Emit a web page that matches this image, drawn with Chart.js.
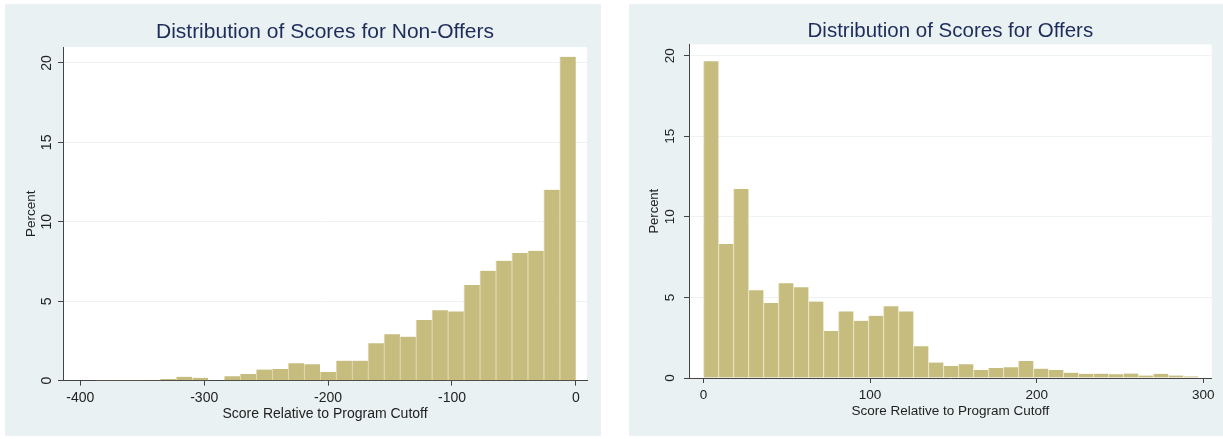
<!DOCTYPE html>
<html>
<head>
<meta charset="utf-8">
<script src="https://cdn.jsdelivr.net/npm/chart.js@4.4.1/dist/chart.umd.min.js"></script>
<style>
  body { margin: 0; background: #fff; width: 1223px; height: 439px; position: relative; overflow: hidden; }
  .panel { position: absolute; top: 4px; height: 432px; background: #e9f1f3; }
  #leftPanel { left: 5px; width: 596px; }
  #rightPanel { left: 629px; width: 594px; }
</style>
</head>
<body>
<div class="panel" id="leftPanel"><canvas id="nonOffers" width="596" height="432"></canvas></div>
<div class="panel" id="rightPanel"><canvas id="offers" width="594" height="432"></canvas></div>
<script>
// histogram bins (percent of applicants)
const nonOfferBinStart = -400;
const nonOfferBinWidth = 12.9;
const nonOfferPercent = [0.03, 0.02, 0.02, 0.02, 0.05, 0.1, 0.25, 0.18, 0, 0.28, 0.42, 0.7, 0.74,
  1.1, 1.04, 0.54, 1.26, 1.26, 2.35, 2.93, 2.77, 3.82, 4.44, 4.36, 6.02, 6.92, 7.55, 8.03, 8.18,
  12.01, 20.38];

const offerBinStart = 0;
const offerBinWidth = 9;
const offerPercent = [19.65, 8.31, 11.72, 5.45, 4.66, 5.88, 5.63, 4.74, 2.92, 4.13, 3.55, 3.86,
  4.45, 4.13, 1.97, 0.96, 0.74, 0.86, 0.5, 0.62, 0.66, 1.05, 0.58, 0.49, 0.33, 0.26, 0.27, 0.24,
  0.28, 0.15, 0.26, 0.15, 0.1];

const nonOfferXTicks = [-400, -300, -200, -100, 0];
const offerXTicks = [0, 100, 200, 300];
const percentTicks = [0, 5, 10, 15, 20];

const FONT = '"Liberation Sans", Arial, sans-serif';
Chart.defaults.font.family = FONT;

const plotBackground = {
  id: "plotBackground",
  beforeDraw(chart) {
    const { ctx, chartArea: a } = chart;
    ctx.save();
    ctx.fillStyle = "#ffffff";
    ctx.fillRect(a.left, a.top, a.right - a.left, a.bottom - a.top);
    ctx.restore();
  }
};

// Stata writes the y tick labels turned on their side
const verticalYLabels = {
  id: "verticalYLabels",
  afterDraw(chart, args, opts) {
    const scale = chart.scales.y;
    const ctx = chart.ctx;
    ctx.save();
    ctx.font = `${opts.size}px ${FONT}`;
    ctx.fillStyle = "#222";
    ctx.textAlign = "center";
    ctx.textBaseline = "middle";
    for (const tick of scale.ticks) {
      const py = scale.getPixelForValue(tick.value);
      ctx.save();
      ctx.translate(opts.x, py);
      ctx.rotate(-Math.PI / 2);
      ctx.fillText(String(tick.value), 0, 0);
      ctx.restore();
    }
    ctx.restore();
  }
};

function histogram(canvasId, title, binStart, binWidth, percents, xTicks, box) {
  const points = percents.map((p, i) => ({ x: binStart + binWidth * (i + 0.5), y: p }));
  return new Chart(document.getElementById(canvasId), {
    type: "bar",
    data: {
      datasets: [{
        data: points,
        backgroundColor: "#c6bc7e",
        borderColor: "#e8e2bc",
        borderWidth: { left: 1, top: 0, right: 0, bottom: 0 },
        barPercentage: 1,
        categoryPercentage: 1
      }]
    },
    options: {
      responsive: false,
      animation: false,
      layout: { padding: { left: 0, top: 0, right: box.padRight, bottom: 0 } },
      plugins: {
        legend: { display: false },
        tooltip: { enabled: false },
        title: {
          display: true,
          text: title,
          fullSize: false,
          color: "#1d2c5a",
          font: { size: box.titleSize, weight: "normal" },
          padding: { top: 15.4, bottom: box.titleGap }
        },
        verticalYLabels: { x: box.yLabelX, size: box.labelSize }
      },
      scales: {
        x: {
          type: "linear",
          min: box.xMin,
          max: box.xMax,
          offset: false,
          afterBuildTicks: (scale) => { scale.ticks = xTicks.map((v) => ({ value: v })); },
          afterFit: (scale) => { scale.height = box.xAxisHeight; },
          grid: { offset: false, drawOnChartArea: false, drawTicks: true, tickLength: 5, tickColor: "#444" },
          border: { color: "#444", width: 1 },
          ticks: { color: "#222", font: { size: box.labelSize }, padding: box.xTickPad, maxRotation: 0 },
          title: {
            display: true,
            text: "Score Relative to Program Cutoff",
            color: "#222",
            font: { size: box.labelSize },
            padding: { top: 0, bottom: box.xTitlePad }
          }
        },
        y: {
          min: 0,
          max: box.yMax,
          afterBuildTicks: (scale) => { scale.ticks = percentTicks.map((v) => ({ value: v })); },
          afterFit: (scale) => { scale.width = box.yAxisWidth; },
          grid: { color: "#edf2f4", lineWidth: 1, drawTicks: true, tickLength: 5, tickColor: "#444" },
          border: { color: "#444", width: 1 },
          ticks: { display: false },
          title: {
            display: true,
            text: "Percent",
            color: "#222",
            font: { size: box.labelSize - 0.5 },
            padding: { top: 18, bottom: 0 }
          }
        }
      }
    },
    plugins: [plotBackground, verticalYLabels]
  });
}

histogram("nonOffers", "Distribution of Scores for Non-Offers",
  nonOfferBinStart, nonOfferBinWidth, nonOfferPercent, nonOfferXTicks, {
    xMin: -414, xMax: 9, yMax: 21,
    yAxisWidth: 58, xAxisHeight: 55.3, padRight: 14,
    titleSize: 21, titleGap: 2.4, labelSize: 14,
    yLabelX: 42.5, xTickPad: 4.3, xTitlePad: 13.6
  });

histogram("offers", "Distribution of Scores for Offers",
  offerBinStart, offerBinWidth, offerPercent, offerXTicks, {
    xMin: -8.7, xMax: 305, yMax: 20.7,
    yAxisWidth: 60, xAxisHeight: 58, padRight: 11.3,
    titleSize: 20.5, titleGap: 0.4, labelSize: 13.5,
    yLabelX: 41.5, xTickPad: 4, xTitlePad: 16.6
  });
</script>
</body>
</html>
